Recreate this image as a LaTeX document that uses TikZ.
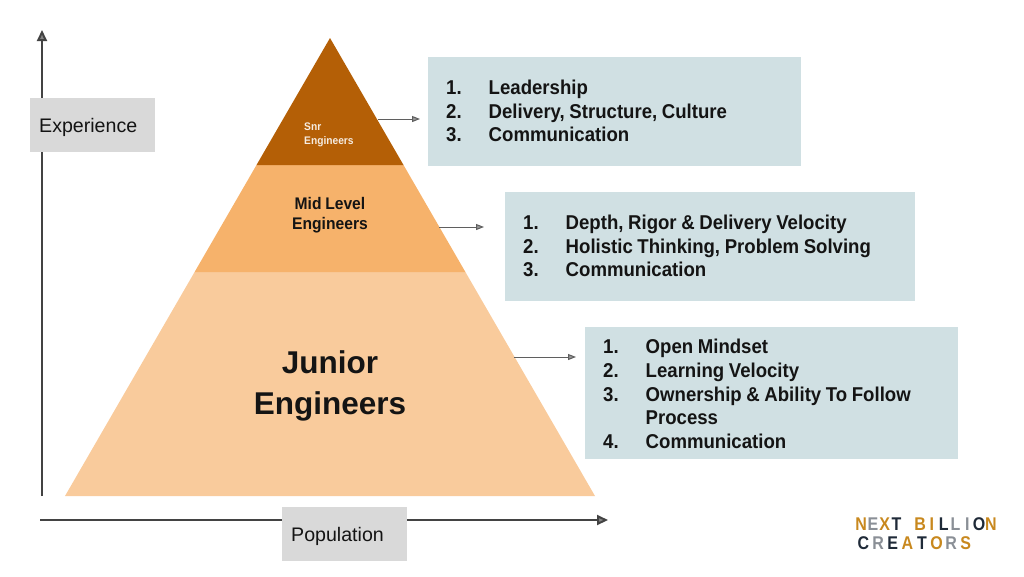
\documentclass[tikz,border=0pt]{standalone}
\usepackage{fontspec}
\usepackage{enumitem}
\usepackage{graphicx}
\setmainfont{Liberation Sans}
\newfontfamily\medfont[FakeStretch=0.93,WordSpace=0.85]{Liberation Sans}
\usetikzlibrary{arrows.meta,positioning}
\definecolor{snrcolor}{HTML}{B45F06}
\definecolor{midcolor}{HTML}{F6B26B}
\definecolor{jrcolor}{HTML}{F9CB9C}
\definecolor{listcolor}{HTML}{D0E0E3}
\definecolor{axiscolor}{HTML}{434343}
\definecolor{inkcolor}{HTML}{141414}
\definecolor{axislabel}{HTML}{D9D9D9}
\definecolor{logogold}{HTML}{C8881E}
\definecolor{logogrey}{HTML}{8A8F96}
\definecolor{logodark}{HTML}{1F2A38}
\newcommand{\logoch}[3]{\makebox[#1pt]{\textcolor{#2}{#3}}}
\newcommand{\steplist}[2][10.5pt]{\vspace*{-#1}\spaceskip=4.6pt\relax\begin{enumerate}[nosep,leftmargin=42.5pt,labelwidth=42.5pt,labelsep=0pt,align=left,label=\arabic*.]#2\end{enumerate}}
\begin{document}
\begin{tikzpicture}[x=1pt,y=-1pt,
		list_box/.style ={rectangle, fill=listcolor, text=inkcolor, anchor=north west,
			align=left, inner xsep=18pt, inner ysep=0pt, font=\fontsize{20}{23.6}\selectfont\medfont\bfseries},
		axis_label/.style ={rectangle, fill=axislabel, text=inkcolor, inner ysep=0pt, inner xsep=9pt,
			align=left, minimum height=54pt, anchor=north west, font=\fontsize{19.6}{23}\selectfont},
		tier_label/.style ={text=inkcolor, inner sep=0pt},
		axis/.style ={draw=axiscolor, line width=2pt, -{Triangle[length=11pt,width=10pt,fill=axiscolor!65]}},
		link/.style ={draw=axiscolor!85, line width=1pt, -{Triangle[length=8pt,width=6pt,fill=axiscolor!55]}}]
	\useasboundingbox (0,0) rectangle (1024,576);
	% pyramid tiers
	\coordinate (apex) at (330,38);
	\fill[jrcolor] (194.6,272) -- (465.4,272) -- (595,496) -- (65,496) -- cycle;
	\fill[midcolor] (256.5,165) -- (403.5,165) -- (465.4,272) -- (194.6,272) -- cycle;
	\fill[snrcolor] (apex) -- (403.5,165) -- (256.5,165) -- cycle;
	% tier labels
	\node [tier_label, anchor=north west, align=left, text=white!88!snrcolor, font=\fontsize{11}{14}\selectfont\medfont\bfseries] (snr) at (304,122.5) {Snr\\Engineers};
	\node [tier_label, align=center, font=\fontsize{16.8}{20.5}\selectfont\medfont\bfseries] (mid) at (330,215) {Mid Level\\Engineers};
	\node [tier_label, align=center, font=\fontsize{31.5}{41.5}\selectfont\bfseries] (junior) at (330,386) {Junior\\Engineers};
	% lists
	\node [list_box, text width=337pt, minimum height=109pt] (snrlist) at (428,57) {\steplist{
		\item Leadership
		\item Delivery, Structure, Culture
		\item Communication}};
	\node [list_box, text width=374pt, minimum height=109pt] (midlist) at (505,192) {\steplist{
		\item Depth, Rigor \& Delivery Velocity
		\item Holistic Thinking, Problem Solving
		\item Communication}};
	\node [list_box, text width=337pt, minimum height=132pt] (jrlist) at (585,327) {\steplist[7.5pt]{
		\item Open Mindset
		\item Learning Velocity
		\item Ownership \& Ability To Follow Process
		\item Communication}};
	% arrows from tiers to lists
	\coordinate (snrout) at (378,119);
	\coordinate (midout) at (439,227);
	\coordinate (jrout) at (514,357);
	\path[link, shorten >=8pt] (snrout) -- (snrout -| snrlist.west);
	\path[link, shorten >=21pt] (midout) -- (midout -| midlist.west);
	\path[link, shorten >=9pt] (jrout) -- (jrout -| jrlist.west);
	% axes
	\coordinate (origin_y) at (42,496);
	\coordinate (top_y) at (42,30);
	\coordinate (origin_x) at (40,520);
	\coordinate (end_x) at (608,520);
	\path[axis] (origin_y) -- (top_y);
	\path[axis] (origin_x) -- (end_x);
	\node [axis_label, text width=106.5pt] (experience) at (30,98) {\vspace*{-4pt}Experience};
	\node [axis_label, text width=107pt] (population) at (282,507) {\vspace*{-4pt}Population};
	% logo
	\node [inner sep=0pt, anchor=west, font=\fontsize{16}{16}\selectfont\bfseries] (logotop) at (855,524.5) {\scalebox{1}[1.15]{%
		\logoch{11.8}{logogold}{N}\logoch{11.8}{logogrey}{E}\logoch{11.8}{logogold}{X}\logoch{11.8}{logodark}{T}%
		\logoch{11.8}{white}{ }\logoch{11.8}{logogold}{B}\logoch{11.8}{logogold}{I}\logoch{11.8}{logodark}{L}%
		\logoch{11.8}{logogrey}{L}\logoch{11.8}{logogrey}{I}\logoch{11.8}{logodark}{O}\logoch{11.8}{logogold}{N}}};
	\node [inner sep=0pt, anchor=west, font=\fontsize{16}{16}\selectfont\bfseries] (logobottom) at (856,543) {\scalebox{1}[1.15]{%
		\logoch{14.6}{logodark}{C}\logoch{14.6}{logogrey}{R}\logoch{14.6}{logodark}{E}\logoch{14.6}{logogold}{A}%
		\logoch{14.6}{logodark}{T}\logoch{14.6}{logogold}{O}\logoch{14.6}{logogrey}{R}\logoch{14.6}{logogold}{S}}};
\end{tikzpicture}
\end{document}
